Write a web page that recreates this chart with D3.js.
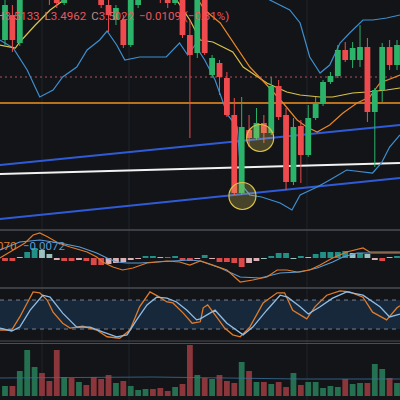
<!DOCTYPE html>
<html><head><meta charset="utf-8">
<script src="https://cdn.jsdelivr.net/npm/d3@7"></script>
<style>html,body{margin:0;padding:0;background:#131418;overflow:hidden}</style>
</head><body><svg id="c" width="400" height="400"></svg>
<script>
// Price values are expressed as ticks below the top of the visible price range (larger = lower price)
const candles = [ // [open, high, low, close]
[40,-5,45,5],[15,5,52,40],[43,-25,46,-20],[-10,-45,-5,-40],[-20,-60,-15,-50],[-50,-55,-5,-10],
[-10,-15,5,0],[0,-5,8,3],[3,-25,5,-20],[-20,-25,-5,-10],[-10,-35,-5,-30],[-30,-35,-10,-15],
[-15,-20,-2,-5],[-5,-10,8,5],[5,-2,32,15],[20,5,25,8],[20,15,48,45],[45,-5,47,0],
[5,-20,8,-15],[-10,-30,-5,-25],[-25,-30,-5,-10],[-10,-15,3,0],[0,-5,8,3],[3,-10,5,-5],
[-5,-10,38,35],[35,20,138,55],[53,-5,58,0],[0,-5,55,53],[75,55,78,58],[63,60,95,77],
[78,72,117,115],[115,98,195,193],[193,97,195,127],[130,115,147,138],[138,108,140,123],[123,115,143,133],
[133,77,135,86],[86,80,120,117],[115,108,190,182],[182,118,185,127],[126,120,183,155],[155,105,157,118],
[118,97,120,104],[104,80,106,82],[82,72,84,76],[76,45,78,50],[50,42,62,60],[60,42,68,48],
[60,25,67,47],[47,38,122,112],[112,88,167,90],[90,43,102,47],[47,40,70,65],[65,40,70,45]];
const volumes = [10,10,25,46,29,23,15,46,19,18,14,11,19,17,21,13,15,10,6,7,7,8,5,9,12,51,21,
18,17,21,15,13,34,25,14,14,12,14,9,23,11,14,14,8,10,9,17,12,13,13,32,27,18,13];
const volumeMA = [[-0.7,18],[20,19],[40,17],[53.4,17]];
const bbLower = [[-0.7,40],[1.1,48],[3.0,70],[4.7,97],[6.5,90],[7.8,77],[9.7,67],[11.1,50],[12.8,40],[13.8,31],[15.1,45],[16.2,60],[18.2,57],[20.3,57],[21.8,57],[23.6,43],[24.7,55],[25.7,45],[27.0,60],[28.4,80],[30.1,115],[31.4,127],[32.0,185],[33.1,195],[34.7,197],[37.2,203],[38.8,210],[39.9,195],[42.2,187],[43.9,180],[46.2,170],[49.7,173],[50.9,163],[52.0,147],[53.4,135]];
const bbUpper = [[34.7,-5],[35.8,0],[38.5,10],[39.9,23],[41.2,57],[42.6,73],[43.9,65],[45.3,43],[46.6,33],[48.4,20],[49.7,20],[51.6,18],[53.4,15]];
const maSlow = [[-0.7,45],[1.4,48],[2.0,42],[4.1,25],[6.1,10],[7.4,3],[8.5,-3],[22.3,-10],[25.0,20],[26.4,40],[28.1,42],[30.8,52],[32.2,67],[35.4,83],[38.1,92],[39.9,95],[42.6,97],[44.3,97],[47.0,93],[48.9,92],[51.6,90],[53.4,88]];
const maFast = [[25.7,-5],[27.0,10],[29.1,23],[33.1,67],[35.4,85],[37.6,103],[39.5,120],[40.8,127],[42.2,132],[43.9,125],[45.7,113],[47.6,103],[49.3,97],[50.7,83],[53.4,75]];
const channelUpper = [[-0.7,165],[53.4,125]];
const channelLower = [[-0.7,219],[53.4,178]];
const midLine = [[-0.7,174],[53.4,163]];
const supportLevel = 103, resistLevel = 77;
const circles = [[34.5,138],[32.1,196]];
const macdHist = [-3,-3,1,6,10,8,4,-2,-3,-3,-2,-3,-7,-7,-6,-5,-4,-2,-1,2,2,1,1,2,-2,-3,-1,
3,-1,-4,-4,-5,-9,-5,-3,0,2,5,5,0,2,1,4,6,6,6,7,5,5,4,-2,-3,1,2];
const macdLine = [[-0.7,0],[2.7,15],[3.8,23],[4.7,25],[5.8,21],[7.2,15],[8.8,11],[11.1,6],[12.4,1],[13.2,-4],[14.6,-9],[15.9,-12],[17.3,-10],[19.2,-5],[21.9,-3],[23.6,-4],[25.0,-7],[26.4,-3],[28.1,-7],[30.0,-12],[31.8,-24],[33.5,-22],[35.4,-19],[36.8,-12],[38.1,-12],[39.5,-14],[41.2,-12],[42.6,-7],[44.3,0],[46.2,6],[48.4,10],[49.3,6],[51.6,6],[53.4,6]];
const signalLine = [[-0.7,8],[2.0,16],[4.7,18],[7.4,15],[10.1,11],[12.4,5],[13.8,0],[15.1,-4],[16.5,-5],[18.2,-5],[20.5,-4],[22.7,-3],[25.0,-2],[26.4,-3],[29.1,-10],[31.8,-19],[34.5,-20],[37.2,-15],[39.9,-14],[42.2,-10],[44.3,-4],[45.7,1],[47.6,5],[50.7,5],[53.4,5]];
const stochK = [[-0.7,18],[0.9,18],[2.0,45],[3.0,74],[3.8,97],[4.7,95],[5.7,80],[6.5,55],[7.8,32],[8.8,22],[10.5,26],[12.4,18],[13.8,4],[15.5,1],[16.9,18],[18.2,66],[19.6,97],[20.9,86],[21.9,76],[22.7,74],[24.1,53],[25.3,32],[26.4,35],[26.8,64],[27.4,70],[28.6,45],[29.7,22],[30.8,8],[31.8,4],[33.1,24],[34.9,74],[36.8,95],[37.8,95],[38.9,59],[40.8,41],[41.9,66],[43.5,90],[45.3,99],[46.6,97],[48.4,86],[49.7,55],[51.6,39],[53.0,64],[53.4,68]];
const stochD = [[-0.7,22],[0.9,16],[2.0,24],[3.4,59],[5.1,90],[6.1,86],[7.8,53],[9.7,24],[11.5,24],[13.2,14],[15.1,4],[16.5,8],[17.8,39],[19.2,70],[20.5,86],[21.9,84],[23.2,76],[24.6,59],[25.9,39],[26.4,41],[28.4,59],[30.0,32],[32.2,8],[33.5,24],[35.4,59],[37.2,90],[38.2,86],[39.9,66],[41.0,51],[42.6,66],[44.3,84],[46.2,97],[48.4,90],[50.7,66],[52.0,45],[53.4,51]];
const stochBands = [80,20];
const header = [["H","3.5133"],["L","3.4962"],["C","3.5022"],["","−0.0109 (−0.31%)"]];
const macdLabels = ["0.0070","−0.0072"];

const svg = d3.select("#c");
const W = 400;
const x = d3.scaleLinear().domain([0,53]).range([5,397]);
const y = d3.scaleLinear().domain([0,225]).range([0,225]);
const yM = d3.scaleLinear().domain([0,10]).range([258,248]);
const yS = d3.scaleLinear().domain([0,100]).range([338.7,290.4]);
const yV = d3.scaleLinear().domain([0,10]).range([396,386]);
const up = "#2bb36a", dn = "#ef4b4f", upV = "#247050", dnV = "#8a363b";
const isUp = c => c[3] <= c[0];

svg.append("rect").attr("width",W).attr("height",400).attr("fill","#131418");
const defs = svg.append("defs");
defs.append("clipPath").attr("id","cm").append("rect").attr("width",W).attr("height",228);
// grid
[42,129,307].forEach(g=>svg.append("line").attr("x1",g).attr("x2",g).attr("y1",0).attr("y2",400).attr("stroke","#1f2229"));
// separators
[[230,1.5],[288,1.5],[341,1.2],[343.5,1]].forEach(s=>svg.append("line").attr("x1",0).attr("x2",W).attr("y1",s[0]).attr("y2",s[0]).attr("stroke","#4a4d55").attr("stroke-width",s[1]));

const main = svg.append("g").attr("clip-path","url(#cm)");
const line = (sy)=>d3.line().x(d=>x(d[0])).y(d=>sy(d[1])).curve(d3.curveLinear);
main.append("line").attr("x1",0).attr("x2",W).attr("y1",y(resistLevel)).attr("y2",y(resistLevel)).attr("stroke","#b0505a").attr("stroke-dasharray","2,3");
main.append("line").attr("x1",0).attr("x2",W).attr("y1",y(supportLevel)).attr("y2",y(supportLevel)).attr("stroke","#f0901e").attr("stroke-width",1.6);
[[channelUpper,"#2f5bd8",2],[channelLower,"#2f5bd8",2],[midLine,"#f2f2f2",2]].forEach(l=>main.append("path").attr("d",line(y)(l[0])).attr("stroke",l[1]).attr("stroke-width",l[2]).attr("fill","none"));
[[bbLower,"#3d8fd0"],[bbUpper,"#3d8fd0"],[maSlow,"#d8c24a"],[maFast,"#e8862a"]].forEach(l=>main.append("path").attr("d",line(y)(l[0])).attr("stroke",l[1]).attr("stroke-width",1.2).attr("fill","none"));
const cw = 5.8;
candles.forEach((c,i)=>{
  const col = isUp(c)?up:dn;
  main.append("line").attr("x1",x(i)).attr("x2",x(i)).attr("y1",y(c[1])).attr("y2",y(c[2])).attr("stroke",col).attr("stroke-width",1);
  main.append("rect").attr("x",x(i)-cw/2).attr("width",cw).attr("y",y(Math.min(c[0],c[3]))).attr("height",Math.max(1,Math.abs(y(c[3])-y(c[0])))).attr("fill",col);
});
circles.forEach(c=>main.append("circle").attr("cx",x(c[0])).attr("cy",y(c[1])).attr("r",13.5).attr("fill","rgba(230,210,90,0.25)").attr("stroke","#d8c24a").attr("stroke-width",1.2));
// header
const ht = svg.append("text").attr("x",-4).attr("y",20).attr("font-family","Roboto, sans-serif").attr("font-size",11.5);
header.forEach((h,i)=>{ if(h[0]) ht.append("tspan").attr("fill","#b98a8a").attr("dx",i?5:0).text(h[0]); ht.append("tspan").attr("fill","#e8575c").attr("dx",h[0]?0:5).text(h[1]); });

// MACD
macdHist.forEach((v,i)=>{
  const prev = i?macdHist[i-1]:v;
  const grow = Math.abs(v)>=Math.abs(prev);
  const col = v>=0 ? (grow?"#26a69a":"#b2dfdb") : (grow?"#ff5252":"#ffcdd2");
  svg.append("rect").attr("x",x(i)-cw/2).attr("width",cw).attr("y",Math.min(yM(v),yM(0))).attr("height",Math.max(1,Math.abs(yM(v)-yM(0)))).attr("fill",col).attr("opacity",0.85);
});
svg.append("path").attr("d",line(yM)(signalLine)).attr("stroke","#5b9bd5").attr("stroke-width",1.2).attr("fill","none");
svg.append("path").attr("d",line(yM)(macdLine)).attr("stroke","#e07b2a").attr("stroke-width",1.2).attr("fill","none");
svg.append("text").attr("x",-19).attr("y",250).attr("font-family","Roboto, sans-serif").attr("font-size",11.5).attr("fill","#e07b2a").text(macdLabels[0]);
svg.append("text").attr("x",23).attr("y",250).attr("font-family","Roboto, sans-serif").attr("font-size",11.5).attr("fill","#5b9bd5").text(macdLabels[1]);

// Stochastic
svg.append("rect").attr("x",0).attr("width",W).attr("y",yS(stochBands[0])).attr("height",yS(stochBands[1])-yS(stochBands[0])).attr("fill","#17283a");
stochBands.forEach(b=>svg.append("line").attr("x1",0).attr("x2",W).attr("y1",yS(b)).attr("y2",yS(b)).attr("stroke","#7a7f8a").attr("stroke-dasharray","4,4"));
svg.append("path").attr("d",line(yS)(stochK)).attr("stroke","#e07b2a").attr("stroke-width",1.3).attr("fill","none");
svg.append("path").attr("d",line(yS)(stochD)).attr("stroke","#8fbde6").attr("stroke-width",1.3).attr("fill","none");

// Volume
volumes.forEach((v,i)=>{
  svg.append("rect").attr("x",x(i)-cw/2).attr("width",cw).attr("y",yV(v)).attr("height",yV(0)-yV(v)).attr("fill",isUp(candles[i])?upV:dnV);
});
svg.append("path").attr("d",line(yV)(volumeMA)).attr("stroke","#3a6f9a").attr("stroke-width",1).attr("fill","none").attr("opacity",0.8);
</script></body></html>
